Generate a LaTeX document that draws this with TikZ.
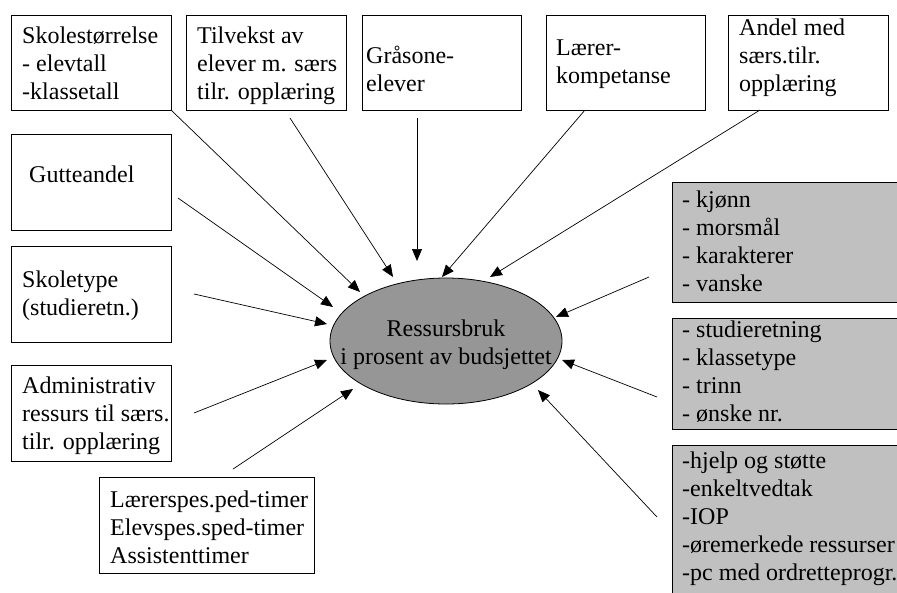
\documentclass[tikz,border=0pt]{standalone}
\usepackage{fontspec}
\setmainfont{Liberation Serif}
\usetikzlibrary{arrows.meta,shapes.geometric}
\newcommand\mylines[1]{\begin{tabular}[t]{@{}l@{}}#1\end{tabular}}
\newcommand\mycentre[1]{\begin{tabular}[t]{@{}c@{}}#1\end{tabular}}
\definecolor{lightg}{RGB}{192,192,192}
\definecolor{darkg}{RGB}{150,150,150}
\tikzset{
  box/.style={draw=black, line width=0.8pt, fill=white, inner sep=0pt},
  gbox/.style={draw=black, line width=0.8pt, fill=lightg, inner sep=0pt},
  txt/.style={anchor=base west, inner sep=0pt, font=\fontsize{24}{28}\selectfont},
  arr/.style={line width=0.7pt, -{Triangle[length=12pt,width=10pt]}},
}
\begin{document}
\begin{tikzpicture}[x=1pt,y=-1pt]
\useasboundingbox (0,0) rectangle (897,592);
\clip (0,0) rectangle (897,592);
\fill[white] (0,0) rectangle (897,592);
% boxes
\node[box, minimum width=160, minimum height=95] (b1) at (91,62.5) {};
\node[box, minimum width=160, minimum height=95] (b2) at (266,62.5) {};
\node[box, minimum width=159, minimum height=95] (b3) at (441.5,62.5) {};
\node[box, minimum width=159, minimum height=95] (b4) at (625.5,62.5) {};
\node[box, minimum width=160, minimum height=95] (b5) at (808,62.5) {};
\node[box, minimum width=160, minimum height=96] (b6) at (91,182) {};
\node[box, minimum width=160, minimum height=96] (b7) at (91,294) {};
\node[box, minimum width=160, minimum height=96] (b8) at (91,413) {};
\node[box, minimum width=215, minimum height=96] (b9) at (206.5,525) {};
\node[gbox, minimum width=238, minimum height=120] (g1) at (791,242) {};
\node[gbox, minimum width=238, minimum height=111] (g2) at (791,373.5) {};
\node[gbox, minimum width=238, minimum height=165] (g3) at (791,527.5) {};
% texts
\node[txt] (t1) at (22,43) {\mylines{Skolestørrelse\\- elevtall\\-klassetall}};
\node[txt] (t2) at (197,43) {\mylines{Tilvekst av\\elever m. særs\\tilr. opplæring}};
\node[txt] (t3) at (366,63) {\mylines{Gråsone-\\elever}};
\node[txt] (t4) at (556,55) {\mylines{Lærer-\\kompetanse}};
\node[txt] (t5) at (739,35) {\mylines{Andel med\\særs.tilr.\\opplæring}};
\node[txt] (t6) at (29,182) {Gutteandel};
\node[txt] (t7) at (22,287) {\mylines{Skoletype\\(studieretn.)}};
\node[txt] (t8) at (22,393) {\mylines{Administrativ\\ressurs til særs.\\tilr. opplæring}};
\node[txt] (t9) at (110,507) {\mylines{Lærerspes.ped-timer\\Elevspes.sped-timer\\Assistenttimer}};
\node[txt] (t10) at (682,207) {\mylines{- kjønn\\- morsmål\\- karakterer\\- vanske}};
\node[txt] (t11) at (682,337) {\mylines{- studieretning\\- klassetype\\- trinn\\- ønske nr.}};
\node[txt] (t12) at (682,468) {\mylines{-hjelp og støtte\\-enkeltvedtak\\-IOP\\-øremerkede ressurser\\-pc med ordretteprogr.}};
% centre
\node[ellipse, draw=black, line width=0.8pt, fill=darkg, minimum width=232, minimum height=126, inner sep=0pt] (c) at (446,341) {};
\node[txt, anchor=base] (ct) at (446,336) {\mycentre{Ressursbruk\\i prosent av budsjettet}};
% connector end points
\coordinate (s1) at (171,110);  \coordinate (e1) at (360,292);
\coordinate (s2) at (290,118);  \coordinate (e2) at (393,277);
\coordinate (s3) at (417,118);  \coordinate (e3) at (417,261);
\coordinate (s4) at (585,110);  \coordinate (e4) at (442,277);
\coordinate (s5) at (760,110);  \coordinate (e5) at (490,277);
\coordinate (s6) at (178,198);  \coordinate (e6) at (333,307);
\coordinate (s7) at (194,294);  \coordinate (e7) at (327,324);
\coordinate (s8) at (194,413);  \coordinate (e8) at (327,360);
\coordinate (s9) at (233,469);  \coordinate (e9) at (353,389);
\coordinate (s10) at (649,277); \coordinate (e10) at (556,317);
\coordinate (s11) at (657,397); \coordinate (e11) at (562,360);
\coordinate (s12) at (657,517); \coordinate (e12) at (538,390);
\foreach \i in {1,...,12} {\draw[arr] (s\i) -- (e\i);}
\end{tikzpicture}
\end{document}
